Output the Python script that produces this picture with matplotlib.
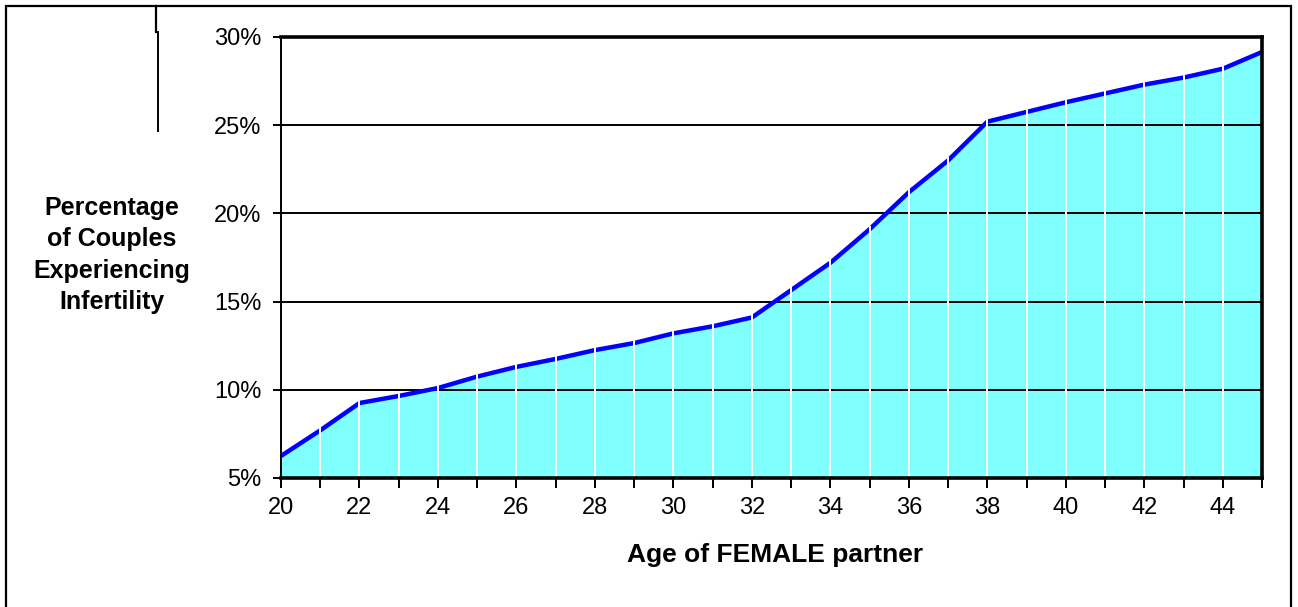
import matplotlib.pyplot as plt
from matplotlib.lines import Line2D
from matplotlib.patches import Rectangle

ages = list(range(20, 46))
infertility_pct = [6.25, 7.7, 9.25, 9.65, 10.1, 10.75, 11.3, 11.75, 12.25, 12.65,
                   13.2, 13.6, 14.1, 15.65, 17.2, 19.1, 21.2, 23.0, 25.2, 25.75,
                   26.3, 26.8, 27.3, 27.7, 28.2, 29.15]
y_ticks = [5, 10, 15, 20, 25, 30]

plt.rcParams['font.family'] = ['Liberation Sans', 'DejaVu Sans']

fig = plt.figure(figsize=(12.98, 6.07), dpi=100)
W, H = 1298, 607


def fx(px):
    return px / W


def fy(py):
    return 1 - py / H


ax = fig.add_axes([fx(281), fy(478), fx(1262) - fx(281), fy(37) - fy(478)])

ax.fill_between(ages, 5, infertility_pct, color='#80ffff', lw=0, zorder=1)
for v in y_ticks[1:-1]:
    ax.axhline(v, color='black', lw=1.4, zorder=2)
ax.plot(ages, infertility_pct, color='#0000ff', lw=3.2, zorder=3,
        solid_capstyle='butt')
# white separators at each year, only inside the filled area
ax.vlines(ages[1:-1], 5, [v + 0.2 for v in infertility_pct[1:-1]],
          color='white', lw=1.4, zorder=4)

ax.set_xlim(20, 45)
ax.set_ylim(5, 30)
ax.set_xticks(ages)
ax.set_xticklabels([str(a) if a % 2 == 0 and a < 45 else '' for a in ages])
ax.set_yticks(y_ticks)
ax.set_yticklabels(['%d%%' % v for v in y_ticks])
ax.tick_params(axis='x', direction='out', length=7, width=1.4, pad=7,
               labelsize=17)
ax.tick_params(axis='y', direction='out', length=6, width=1.4, pad=8,
               labelsize=17)

for side in ['top', 'right', 'bottom']:
    ax.spines[side].set_linewidth(2.6)
ax.spines['left'].set_linewidth(1.4)
for s in ax.spines.values():
    s.set_zorder(6)

fig.text(fx(112), fy(255), 'Percentage\nof Couples\nExperiencing\nInfertility',
         ha='center', va='center', fontsize=18, fontweight='bold',
         linespacing=1.38)
fig.text(fx(775), fy(555), 'Age of FEMALE partner', ha='center', va='center',
         fontsize=19, fontweight='bold')

# outer frame, open at the bottom edge
fig.patches.append(Rectangle((fx(6), fy(620)), fx(1291) - fx(6), fy(6) - fy(620),
                             transform=fig.transFigure, fill=False,
                             edgecolor='black', lw=1.6))
fig.lines.append(Line2D([fx(156), fx(156)], [fy(6), fy(32)],
                        transform=fig.transFigure, color='black', lw=1.6))
fig.lines.append(Line2D([fx(158), fx(158)], [fy(32), fy(131)],
                        transform=fig.transFigure, color='black', lw=1.4))

fig.savefig('out.png', dpi=100)
